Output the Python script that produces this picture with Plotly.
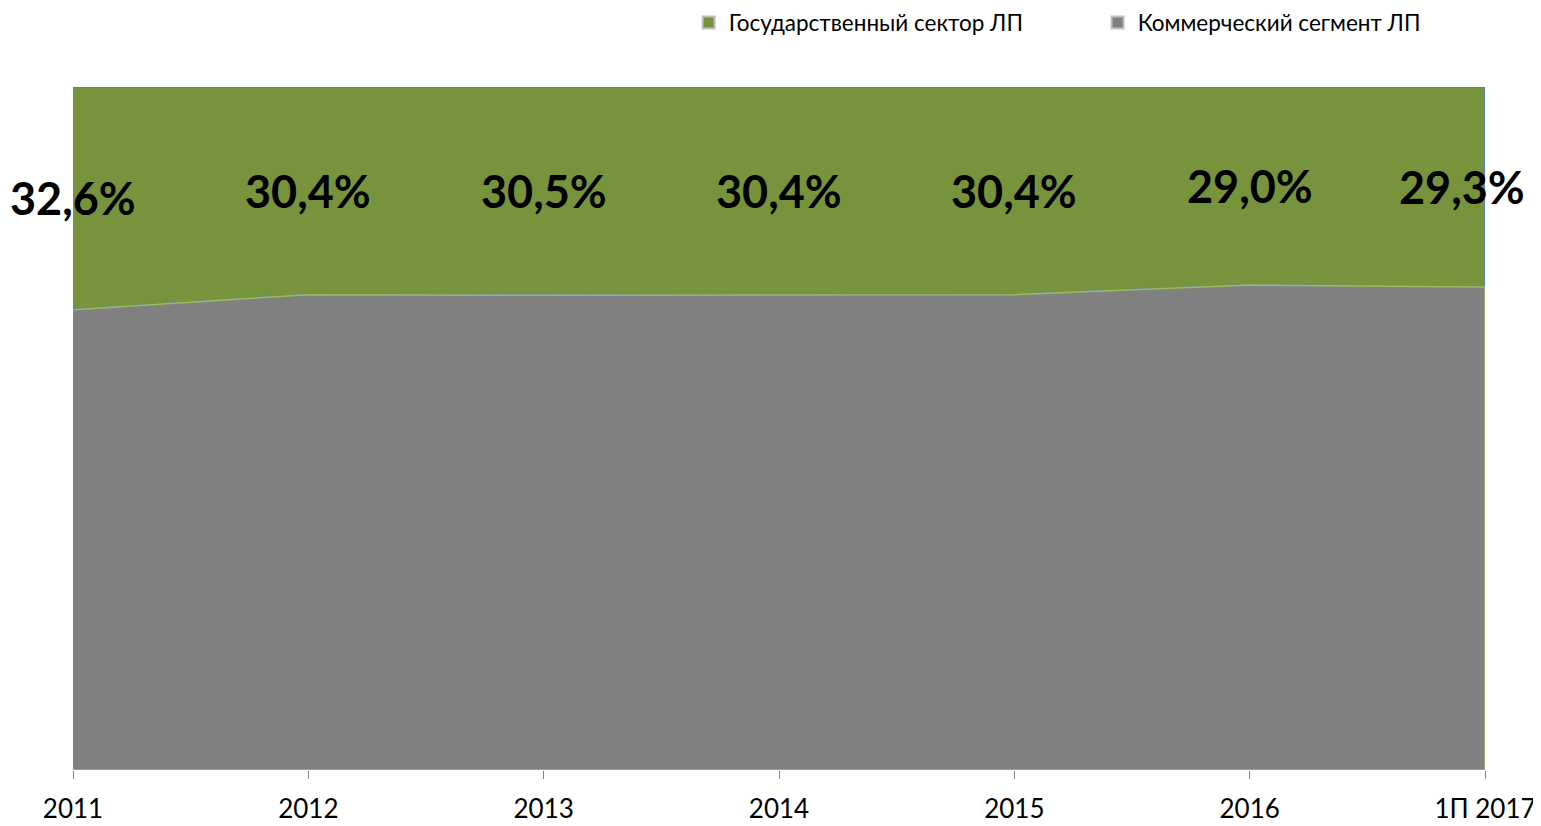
import plotly.graph_objects as go

categories = ["2011", "2012", "2013", "2014", "2015", "2016", "1П 2017"]
gov_share = [32.6, 30.4, 30.5, 30.4, 30.4, 29.0, 29.3]
com_share = [67.4, 69.6, 69.5, 69.6, 69.6, 71.0, 70.7]
gov_labels = ["32,6%", "30,4%", "30,5%", "30,4%", "30,4%", "29,0%", "29,3%"]

series_names = ["Государственный сектор ЛП", "Коммерческий сегмент ЛП"]
fill_colors = ["#77933C", "#808080"]
edge_colors = ["#4F81BD", "#9BBB59"]

xs = list(range(len(categories)))
total = [g + c for g, c in zip(gov_share, com_share)]

fig = go.Figure()

# Government sector (top band) as closed polygon
fig.add_trace(go.Scatter(
    x=xs + xs[::-1],
    y=total + com_share[::-1],
    fill="toself",
    fillcolor=fill_colors[0],
    line=dict(color=edge_colors[0], width=2),
    mode="lines",
    name=series_names[0],
    showlegend=False,
    hoverinfo="skip",
))

# Commercial segment (bottom band)
fig.add_trace(go.Scatter(
    x=xs + xs[::-1],
    y=com_share + [0] * len(xs),
    fill="toself",
    fillcolor=fill_colors[1],
    line=dict(color=edge_colors[1], width=1.5),
    mode="lines",
    name=series_names[1],
    showlegend=False,
    hoverinfo="skip",
))

# Legend entries with square swatches
for name, col in zip(series_names, fill_colors):
    fig.add_trace(go.Scatter(
        x=[None], y=[None], mode="markers", name=name,
        marker=dict(symbol="square", size=13, color=col,
                    line=dict(color="#BFBFBF", width=0.5)),
        showlegend=True,
    ))

# Data labels in middle of government band
for i, (lab, c, t) in enumerate(zip(gov_labels, com_share, total)):
    shift = -23 if i == len(xs) - 1 else 0
    fig.add_annotation(
        x=xs[i], y=(c + t) / 2, text=lab, showarrow=False,
        xshift=shift,
        font=dict(family="Lato", size=45, color="#000000", weight="bold"),
    )

fig.update_layout(
    width=1533, height=818,
    paper_bgcolor="white", plot_bgcolor="white",
    margin=dict(l=65, r=56, t=79, b=56, autoexpand=False),
    showlegend=True,
    legend=dict(
        orientation="h", x=0.436, xanchor="left", y=1.094, yanchor="middle",
        font=dict(family="Lato", size=22.5, color="#000000"),
        entrywidth=364, entrywidthmode="pixels",
        itemsizing="constant",
        bgcolor="rgba(0,0,0,0)",
    ),
    xaxis=dict(
        range=[0, 6], tickmode="array", tickvals=xs, ticktext=categories,
        showgrid=False, zeroline=False, showline=False,
        ticks="outside", ticklen=8, tickcolor="#808080",
        ticklabelstandoff=8, ticklabeloverflow="allow",
        tickfont=dict(family="Lato", size=26, color="#000000"),
        fixedrange=True,
    ),
    yaxis=dict(
        range=[0, 100], visible=False, fixedrange=True,
    ),
)

fig.write_html("out.html")
